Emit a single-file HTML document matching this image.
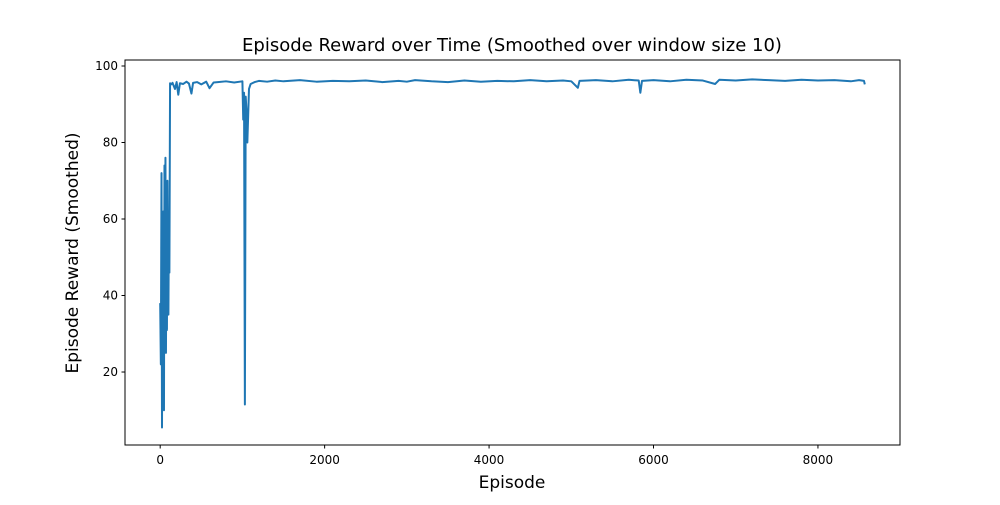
<!DOCTYPE html>
<html><head><meta charset="utf-8"><style>
body{margin:0;background:#fff}
svg text{font-family:"DejaVu Sans","Liberation Sans",sans-serif}
</style></head><body>
<svg id="chart" width="1000" height="500" xmlns="http://www.w3.org/2000/svg">
<rect width="1000" height="500" fill="#fff"/>
<text x="512" y="51" font-size="18" text-anchor="middle">Episode Reward over Time (Smoothed over window size 10)</text>
<g id="plot"></g>
<rect x="125" y="60" width="775" height="385" fill="none" stroke="#000" stroke-width="1"/>
<g id="ticks"></g>
<text x="512" y="488" font-size="17" text-anchor="middle">Episode</text>
<text transform="translate(78,253) rotate(-90)" font-size="17" text-anchor="middle">Episode Reward (Smoothed)</text>
</svg>
<script>
const episodes=[0,8,16,22,28,34,40,46,52,58,64,70,76,82,88,94,100,106,112,120,135,150,180,200,220,240,280,320,350,380,400,450,500,560,600,650,700,800,900,1000,1010,1020,1030,1040,1050,1060,1080,1100,1150,1200,1300,1400,1500,1700,1900,2100,2300,2500,2700,2900,3000,3100,3300,3500,3700,3900,4100,4300,4500,4700,4900,5000,5080,5100,5300,5500,5700,5820,5840,5860,6000,6200,6400,6600,6750,6800,7000,7200,7400,7600,7800,8000,8200,8400,8500,8560,8570];
const rewards=[38,22,72,5.5,60,30,62,10,74,40,76,25,55,31,70,48,35,60,46,95.5,95.2,95.6,94,95.8,92.5,95.5,95.3,95.9,95.4,92.8,95.6,95.8,95.2,95.9,94.2,95.7,95.8,96,95.7,96,86,93,11.5,92,88,80,94,95.3,95.8,96.1,95.9,96.2,96,96.3,95.9,96.1,96,96.2,95.8,96.1,95.9,96.3,96,95.8,96.2,95.9,96.1,96,96.3,96,96.2,96,94.3,96.1,96.3,96,96.4,96.2,93,96.1,96.3,96,96.4,96.2,95.3,96.4,96.2,96.5,96.3,96.1,96.4,96.2,96.3,96,96.3,96.1,95.2];
const xTicks=[0,2000,4000,6000,8000];
const yTicks=[20,40,60,80,100];
const xmin=-428, xmax=8998, ymin=0.92, ymax=101.57;
const X=v=>125+(v-xmin)/(xmax-xmin)*775;
const Y=v=>445-(v-ymin)/(ymax-ymin)*385;
const ns="http://www.w3.org/2000/svg";
const plot=document.getElementById('plot');
let d=episodes.map((e,i)=>(i?'L':'M')+X(e).toFixed(2)+','+Y(rewards[i]).toFixed(2)).join(' ');
const p=document.createElementNS(ns,'path');
p.setAttribute('d',d);p.setAttribute('fill','none');p.setAttribute('stroke','#1f77b4');p.setAttribute('stroke-width','2');p.setAttribute('stroke-linejoin','round');


plot.appendChild(p);
const tk=document.getElementById('ticks');
xTicks.forEach(t=>{
 const l=document.createElementNS(ns,'line');
 l.setAttribute('x1',X(t));l.setAttribute('x2',X(t));l.setAttribute('y1',445);l.setAttribute('y2',448.5);l.setAttribute('stroke','#000');
 
 
 tk.appendChild(l);
 const tx=document.createElementNS(ns,'text');
 tx.setAttribute('x',X(t));tx.setAttribute('y',464);tx.setAttribute('font-size','12');tx.setAttribute('text-anchor','middle');tx.textContent=t;
 
 
 tk.appendChild(tx);
});
yTicks.forEach(t=>{
 const l=document.createElementNS(ns,'line');
 l.setAttribute('x1',121.5);l.setAttribute('x2',125);l.setAttribute('y1',Y(t));l.setAttribute('y2',Y(t));l.setAttribute('stroke','#000');
 
 
 tk.appendChild(l);
 const tx=document.createElementNS(ns,'text');
 tx.setAttribute('x',118);tx.setAttribute('y',Y(t)+4);tx.setAttribute('font-size','12');tx.setAttribute('text-anchor','end');tx.textContent=t;
 
 
 tk.appendChild(tx);
});
</script>
</body></html>
